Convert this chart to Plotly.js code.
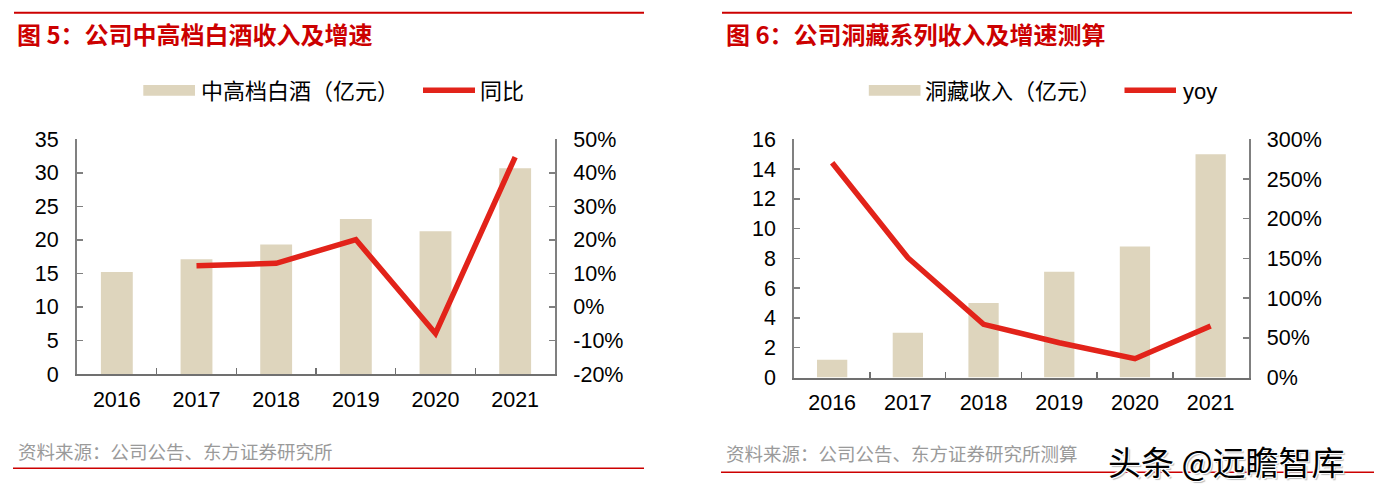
<!DOCTYPE html>
<html>
<head>
<meta charset="utf-8">
<script src="https://cdn.plot.ly/plotly-3.0.1.min.js"></script>
<style>
html,body{margin:0;padding:0;background:#fff;}
#chart{width:1374px;height:496px;}
</style>
</head>
<body>
<div id="chart"></div>
<script>
// ---------- data ----------
const years = ['2016', '2017', '2018', '2019', '2020', '2021'];
const midHighRevenue = [15.2, 17.1, 19.3, 23.1, 21.3, 30.7];       // 中高档白酒（亿元）
const midHighYoY = [null, 12.3, 13.0, 20.1, -7.9, 44.7];           // 同比 (%)
const dongcangRevenue = [1.2, 3.0, 5.0, 7.1, 8.8, 15.0];           // 洞藏收入（亿元）
const dongcangYoY = [270.5, 150.9, 67.0, 43.8, 23.7, 64.9];        // yoy (%)

const leftTicks1 = [0, 5, 10, 15, 20, 25, 30, 35];
const rightTicks1 = [-20, -10, 0, 10, 20, 30, 40, 50];
const leftTicks2 = [0, 2, 4, 6, 8, 10, 12, 14, 16];
const rightTicks2 = [0, 50, 100, 150, 200, 250, 300];

const titles = ['图 5：公司中高档白酒收入及增速', '图 6：公司洞藏系列收入及增速测算'];
const legendNames1 = ['中高档白酒（亿元）', '同比'];
const legendNames2 = ['洞藏收入（亿元）', 'yoy'];
const sources = ['资料来源：公司公告、东方证券研究所', '资料来源：公司公告、东方证券研究所测算'];
const watermark = '头条 @远瞻智库';

// ---------- style ----------
const W = 1374, H = 496;
const px = v => v / W;
const py = v => 1 - v / H;
const BAR = '#DED5BD';
const RED_LINE = '#E2231A';
const RED_TITLE = '#CC0000';
const AXIS = '#808080';
const numFont = {family: 'Liberation Sans, Arial, sans-serif', size: 21.5, color: '#000'};
const cjk = 'Noto Sans CJK SC, sans-serif';

const traces = [
  {type: 'bar', x: years, y: midHighRevenue, name: legendNames1[0], xaxis: 'x', yaxis: 'y',
   marker: {color: BAR}, width: 0.4, showlegend: false, hoverinfo: 'none'},
  {type: 'scatter', mode: 'lines', x: years, y: midHighYoY, name: legendNames1[1], xaxis: 'x', yaxis: 'y2',
   line: {color: RED_LINE, width: 5.5}, connectgaps: false, showlegend: false, hoverinfo: 'none'},
  {type: 'bar', x: years, y: dongcangRevenue, name: legendNames2[0], xaxis: 'x2', yaxis: 'y3',
   marker: {color: BAR}, width: 0.4, showlegend: false, hoverinfo: 'none'},
  {type: 'scatter', mode: 'lines', x: years, y: dongcangYoY, name: legendNames2[1], xaxis: 'x2', yaxis: 'y4',
   line: {color: RED_LINE, width: 5.5}, showlegend: false, hoverinfo: 'none'}
];

function xAxis(domain, anchor) {
  return {domain: domain, anchor: anchor, type: 'category', range: [-0.5, 5.5],
    showline: true, linecolor: '#707070', linewidth: 2, ticks: 'inside', tickson: 'boundaries',
    ticklen: 6, tickwidth: 1.5, tickcolor: '#707070', showgrid: false, zeroline: false,
    tickfont: numFont, ticklabelstandoff: 5, fixedrange: true};
}
function yAxis(domain, anchor, range, vals, side, suffix, overlay) {
  const a = {anchor: anchor, range: range, tickmode: 'array', tickvals: vals,
    ticktext: vals.map(v => v + (suffix || '')),
    showline: true, linecolor: AXIS, linewidth: 2, ticks: 'inside', ticklen: 6, tickwidth: 1.5,
    tickcolor: AXIS, showgrid: false, zeroline: false, tickfont: numFont,
    ticklabelstandoff: 12, side: side, fixedrange: true};
  if (overlay) a.overlaying = overlay; else a.domain = domain;
  return a;
}

const dom1x = [px(77), px(555)], dom1y = [py(374), py(139.3)];
const dom2x = [px(794.3), px(1248.5)], dom2y = [py(377.5), py(139.3)];

const shapes = [
  // header rules
  {type: 'line', xref: 'paper', yref: 'paper', x0: px(14), x1: px(644), y0: py(12.7), y1: py(12.7), line: {color: RED_TITLE, width: 2}},
  {type: 'line', xref: 'paper', yref: 'paper', x0: px(722), x1: px(1352), y0: py(12.7), y1: py(12.7), line: {color: RED_TITLE, width: 2}},
  // footer rules
  {type: 'line', xref: 'paper', yref: 'paper', x0: px(13), x1: px(644), y0: py(468.3), y1: py(468.3), line: {color: RED_TITLE, width: 1.5}},
  {type: 'line', xref: 'paper', yref: 'paper', x0: px(721), x1: px(1374), y0: py(472.3), y1: py(472.3), line: {color: RED_TITLE, width: 1.5}},
  // legend swatches chart 1
  {type: 'rect', xref: 'paper', yref: 'paper', x0: px(143.3), x1: px(195), y0: py(95.7), y1: py(85), fillcolor: BAR, line: {width: 0}},
  {type: 'line', xref: 'paper', yref: 'paper', x0: px(423), x1: px(475), y0: py(90.3), y1: py(90.3), line: {color: RED_LINE, width: 5.5}},
  // legend swatches chart 2
  {type: 'rect', xref: 'paper', yref: 'paper', x0: px(868.8), x1: px(920.5), y0: py(95.7), y1: py(85), fillcolor: BAR, line: {width: 0}},
  {type: 'line', xref: 'paper', yref: 'paper', x0: px(1124.5), x1: px(1176), y0: py(90.3), y1: py(90.3), line: {color: RED_LINE, width: 5.5}}
];

function note(text, x, y, font, anchor) {
  return {text: text, xref: 'paper', yref: 'paper', x: px(x), y: py(y), xanchor: anchor || 'left',
    yanchor: 'middle', showarrow: false, font: font};
}
const titleFont = {family: cjk, size: 24, color: RED_TITLE, weight: 'bold'};
const legFont = {family: cjk, size: 22, color: '#000'};
const legNumFont = {family: 'Liberation Sans, Arial, sans-serif', size: 22, color: '#000'};
const srcFont = {family: cjk, size: 18.5, color: '#9a9a9a'};

const annotations = [
  note(titles[0], 15, 33, titleFont),
  note(titles[1], 724, 33, titleFont),
  note(legendNames1[0], 199, 89, legFont),
  note(legendNames1[1], 478, 89, legFont),
  note(legendNames2[0], 923, 89, legFont),
  note(legendNames2[1], 1181, 91, legNumFont),
  note(sources[0], 16, 450.5, srcFont),
  note(sources[1], 724, 453, srcFont),
  note(watermark, 1106, 461, {family: cjk, size: 33, color: '#000',
    shadow: '1px 1px 0 #fff, -1px -1px 0 #fff, 1px -1px 0 #fff, -1px 1px 0 #fff, 2px 2px 1px #bbb'})
];

const layout = {
  width: W, height: H, margin: {l: 0, r: 0, t: 0, b: 0},
  paper_bgcolor: '#fff', plot_bgcolor: 'rgba(0,0,0,0)',
  showlegend: false, barmode: 'group',
  xaxis: xAxis(dom1x, 'y'),
  yaxis: yAxis(dom1y, 'x', [0, 35], leftTicks1, 'left', ''),
  yaxis2: yAxis(dom1y, 'x', [-20, 50], rightTicks1, 'right', '%', 'y'),
  xaxis2: xAxis(dom2x, 'y3'),
  yaxis3: yAxis(dom2y, 'x2', [0, 16], leftTicks2, 'left', ''),
  yaxis4: yAxis(dom2y, 'x2', [0, 300], rightTicks2, 'right', '%', 'y3'),
  shapes: shapes,
  annotations: annotations
};

Plotly.newPlot('chart', traces, layout, {displayModeBar: false, staticPlot: true});
</script>
</body>
</html>
